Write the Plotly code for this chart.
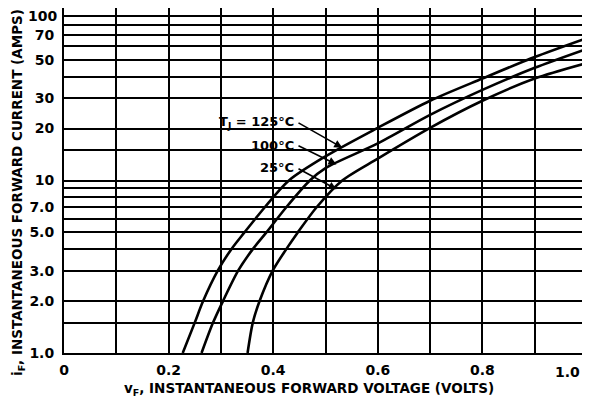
import math
import plotly.graph_objects as go

# Data
v_125 = [0.227, 0.25, 0.266, 0.294, 0.32, 0.345, 0.384, 0.43, 0.5, 0.6, 0.7, 0.8, 0.9, 1.0]
i_125 = [1.0, 1.5, 2.0, 3.0, 4.0, 5.0, 7.0, 10.0, 13.8, 20.2, 29.0, 39.0, 52.0, 67.0]

v_100 = [0.263, 0.285, 0.304, 0.333, 0.361, 0.387, 0.425, 0.47, 0.5, 0.6, 0.7, 0.8, 0.9, 1.0]
i_100 = [1.0, 1.5, 2.0, 3.0, 4.0, 5.0, 7.0, 10.0, 11.8, 16.4, 24.0, 33.5, 45.0, 58.0]

v_25 = [0.351, 0.361, 0.374, 0.399, 0.425, 0.447, 0.483, 0.532, 0.6, 0.7, 0.8, 0.9, 1.0]
i_25 = [1.0, 1.5, 2.0, 3.0, 4.0, 5.0, 7.0, 10.0, 13.4, 20.2, 29.0, 39.0, 48.0]

x_grid = [0, 0.1, 0.2, 0.3, 0.4, 0.5, 0.6, 0.7, 0.8, 0.9, 1.0]
x_labels = ["0", "", "0.2", "", "0.4", "", "0.6", "", "0.8", "", ""]
y_grid = [1, 1.5, 2, 3, 4, 5, 6, 7, 8, 9, 10, 15, 20, 30, 40, 50, 60, 70, 80, 90, 100]
y_labels = ["1.0", "", "2.0", "3.0", "", "5.0", "", "7.0", "", "", "10", "", "20", "30", "", "50", "", "70", "", "", ""]

curve_labels = ["T<sub>J</sub> = 125°C", "100°C", "25°C"]
# arrow tip points on the curves (data coords)
tip_v = [0.532, 0.521, 0.521]
tip_i = [15.5, 12.4, 8.9]

FONT = "DejaVu Sans, Liberation Sans, sans-serif"
# page has an 8px body margin; figure starts at page (8, 8)
OX, OY = 8, 8
W, H = 590 - OX, 404 - OY
PX0, PX1 = 64, 587      # plot left/right in page pixels
PY0, PY1 = 8, 353       # plot top/bottom in page pixels
L, R = PX0 - OX, W - (PX1 - OX)
T, B = PY0 - OY, H - (PY1 - OY)
pw, ph = PX1 - PX0, PY1 - PY0


def bf(size):
    return dict(family=FONT, size=size, color="black", weight="bold")


def paper(xp, yp):
    return (xp - PX0) / pw, (PY1 - yp) / ph


fig = go.Figure()
for v, i in [(v_125, i_125), (v_100, i_100), (v_25, i_25)]:
    fig.add_trace(go.Scatter(x=v, y=i, mode="lines",
                             line=dict(color="black", width=2.6, shape="spline", smoothing=0.8),
                             showlegend=False, hoverinfo="skip", cliponaxis=True))

# white box behind labels (hides grid there)
fig.add_shape(type="rect", xref="x", yref="y", x0=0.269, x1=0.45, y0=10.5, y1=26.0,
              fillcolor="white", line=dict(width=0), layer="below")

annotations = []
label_y_px = [122, 145, 168]
for k, txt in enumerate(curve_labels):
    xp, yp = paper(296, label_y_px[k])
    annotations.append(dict(xref="paper", yref="paper", x=xp, y=yp,
                            xanchor="right", yanchor="middle", text=txt, showarrow=False,
                            font=bf(13)))
    tx, ty = 297, label_y_px[k]
    hx = PX0 + tip_v[k] * pw
    hy = PY0 + (2 - math.log10(tip_i[k])) / 2 * ph
    annotations.append(dict(xref="x", yref="y", x=tip_v[k], y=math.log10(tip_i[k]),
                            axref="pixel", ayref="pixel", ax=tx - hx, ay=ty - hy,
                            text="", showarrow=True, arrowhead=2, arrowsize=1.0,
                            arrowwidth=1.6, arrowcolor="black", standoff=0, startstandoff=0))

annotations.append(dict(xref="paper", yref="paper", x=1.0, y=0, xshift=-5, yshift=-9,
                        xanchor="right", yanchor="top", text="1.0", showarrow=False,
                        font=bf(14)))
annotations.append(dict(xref="paper", yref="paper", x=0, y=1, xshift=-5, yshift=-8,
                        xanchor="right", yanchor="middle", text="100", showarrow=False,
                        font=bf(14)))
xp, yp = paper(309, 389)
annotations.append(dict(xref="paper", yref="paper", x=xp, y=yp,
                        xanchor="center", yanchor="middle",
                        text="v<sub>F</sub>, INSTANTANEOUS FORWARD VOLTAGE (VOLTS)", showarrow=False,
                        font=bf(13.5)))
xp, yp = paper(18, 193)
annotations.append(dict(xref="paper", yref="paper", x=xp, y=yp,
                        xanchor="center", yanchor="middle", textangle=-90,
                        text="i<sub>F</sub>, INSTANTANEOUS FORWARD CURRENT (AMPS)", showarrow=False,
                        font=bf(13.5)))

fig.update_layout(
    width=W, height=H, margin=dict(l=L, r=R, t=T, b=B, pad=0, autoexpand=False),
    paper_bgcolor="white", plot_bgcolor="white",
    annotations=annotations,
    font=bf(14),
)
fig.update_xaxes(range=[0, 1.0], tickvals=x_grid, ticktext=x_labels, automargin=False,
                 showgrid=True, gridcolor="black", gridwidth=1.6,
                 showline=True, linecolor="black", linewidth=2, mirror=True,
                 ticks="", ticklabelstandoff=3, zeroline=False, tickfont=bf(14))
fig.update_yaxes(type="log", range=[0, 2], tickvals=y_grid, ticktext=y_labels, automargin=False,
                 showgrid=True, gridcolor="black", gridwidth=1.6,
                 showline=True, linecolor="black", linewidth=2, mirror=True,
                 ticks="", ticklabelstandoff=5, zeroline=False, tickfont=bf(14))

fig.write_html("out.html")
